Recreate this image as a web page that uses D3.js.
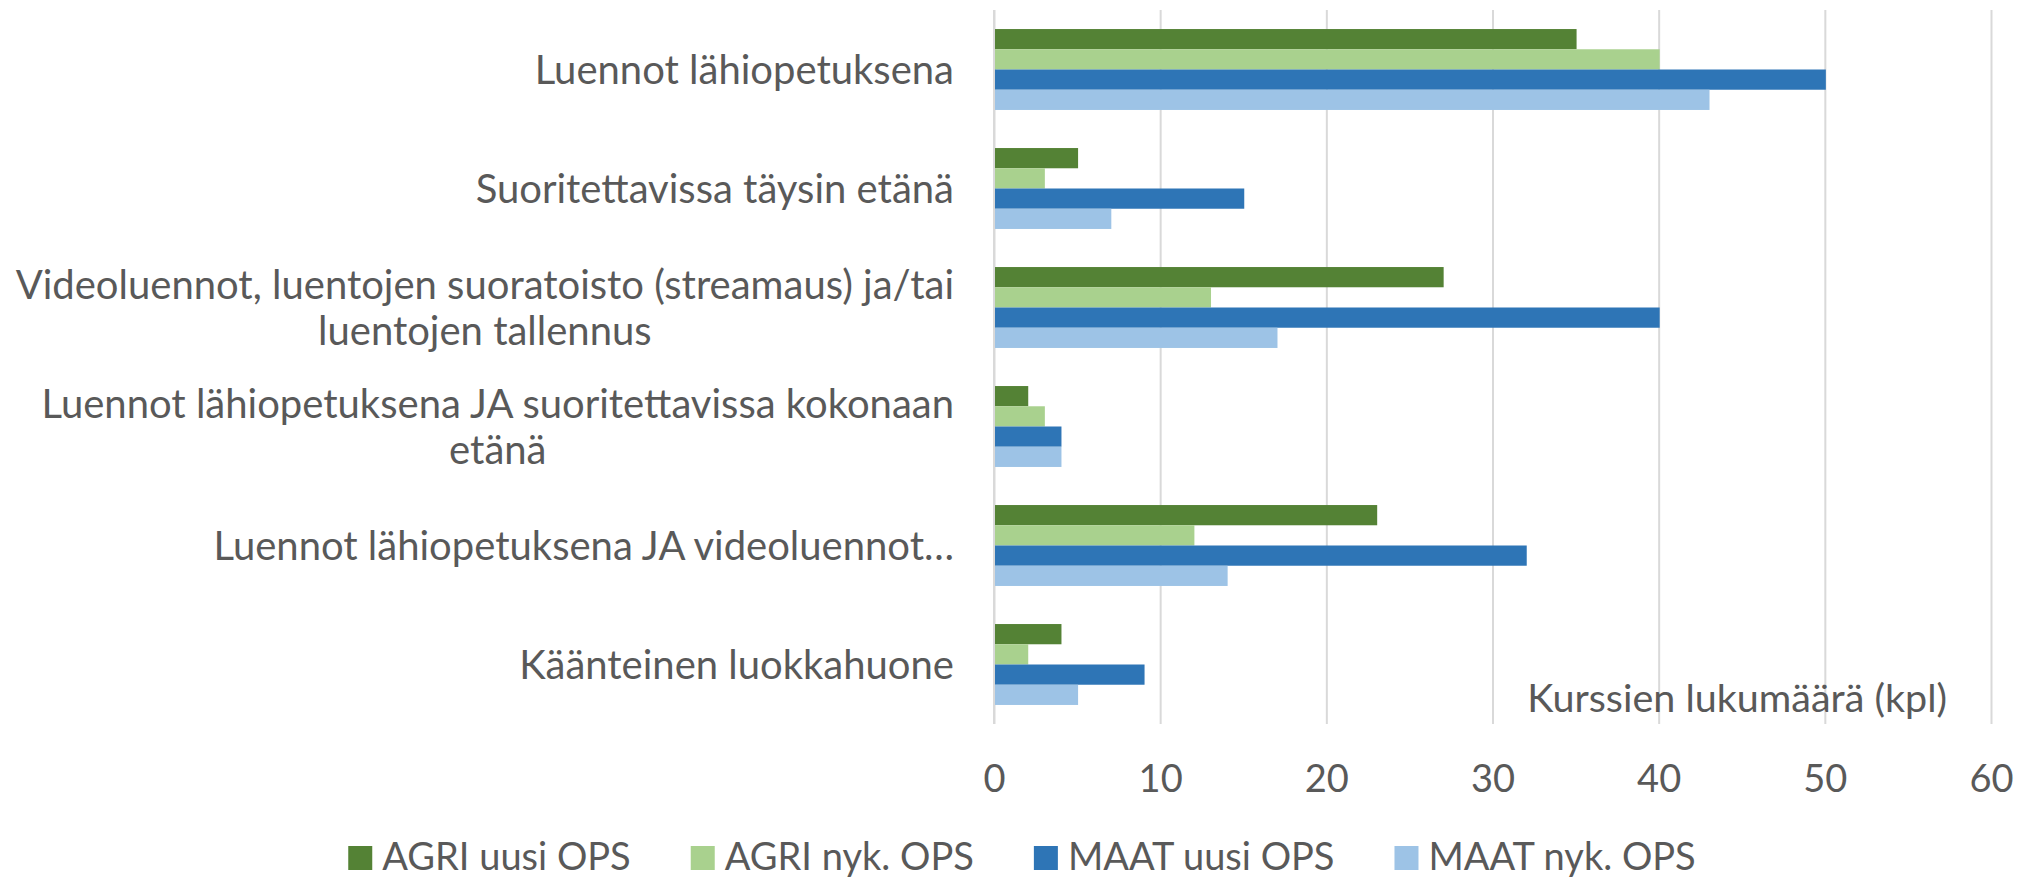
<!DOCTYPE html>
<html>
<head>
<meta charset="utf-8">
<script src="https://cdn.jsdelivr.net/npm/d3@7"></script>
<style>
  html, body { margin: 0; padding: 0; background: #fff; }
  #root { width: 2030px; height: 877px; }
  text { font-family: Lato, "Open Sans", sans-serif; fill: #595959; }
</style>
</head>
<body>
<div id="root"></div>
<script>
// Data
const categories = [
    ["Luennot lähiopetuksena"],
    ["Suoritettavissa täysin etänä"],
    ["Videoluennot, luentojen suoratoisto (streamaus) ja/tai", "luentojen tallennus"],
    ["Luennot lähiopetuksena JA suoritettavissa kokonaan", "etänä"],
    ["Luennot lähiopetuksena JA videoluennot…"],
    ["Käänteinen luokkahuone"]
];
const seriesNames = ["AGRI uusi OPS", "AGRI nyk. OPS", "MAAT uusi OPS", "MAAT nyk. OPS"];
const agriUusi = [35, 5, 27, 2, 23, 4];
const agriNyk  = [40, 3, 13, 3, 12, 2];
const maatUusi = [50, 15, 40, 4, 32, 9];
const maatNyk  = [43, 7, 17, 4, 14, 5];
const xTicks = [0, 10, 20, 30, 40, 50, 60];
const axisTitle = "Kurssien lukumäärä (kpl)";
const colors = ["#548235", "#A9D18E", "#2E75B6", "#9DC3E6"];

const seriesValues = [agriUusi, agriNyk, maatUusi, maatNyk];
const rows = categories.map((c, i) => ({
    key: c.join(" "),
    lines: c,
    values: seriesValues.map((s, j) => ({ series: seriesNames[j], value: s[i], color: colors[j] }))
}));

// Dimensions
const W = 2030, H = 877;
const margin = { top: 10, right: 39, bottom: 153, left: 994 };
const width = W - margin.left - margin.right;
const height = H - margin.top - margin.bottom;
const fontSize = 38;
const catFontSize = 40;

const svg = d3.select('#root')
    .append('svg')
    .attr('width', W)
    .attr('height', H);

const g = svg.append('g')
    .attr('transform', `translate(${margin.left},${margin.top})`);

// Scales
const x = d3.scaleLinear().domain([0, 60]).range([0, width]);
const y = d3.scaleBand()
    .domain(rows.map(d => d.key))
    .range([0, height])
    .paddingInner(0.32)
    .paddingOuter(0.16);
const ySub = d3.scaleBand()
    .domain(seriesNames)
    .range([0, y.bandwidth()]);

// Gridlines
g.append('g')
    .attr('class', 'grid')
    .call(d3.axisBottom(x).tickValues(xTicks).tickSize(height).tickFormat(''))
    .call(s => s.select('.domain').remove())
    .call(s => s.selectAll('line').attr('stroke', '#d9d9d9').attr('stroke-width', 2));

// Bars
const groups = g.selectAll('.cat')
    .data(rows)
    .enter()
    .append('g')
    .attr('class', 'cat')
    .attr('transform', d => `translate(0,${y(d.key)})`);

groups.selectAll('rect')
    .data(d => d.values)
    .enter()
    .append('rect')
    .attr('x', x(0) + 1)
    .attr('y', d => ySub(d.series))
    .attr('width', d => x(d.value) - x(0))
    .attr('height', ySub.bandwidth())
    .attr('fill', d => d.color);

// Vertical axis line
g.append('line')
    .attr('x1', x(0)).attr('x2', x(0))
    .attr('y1', 0).attr('y2', height)
    .attr('stroke', '#d9d9d9')
    .attr('stroke-width', 2);

// X axis labels
g.append('g')
    .attr('transform', `translate(0,${height})`)
    .call(d3.axisBottom(x).tickValues(xTicks).tickSize(0).tickPadding(41).tickFormat(d3.format('d')))
    .call(s => s.select('.domain').remove())
    .call(s => s.selectAll('text')
        .attr('font-size', fontSize)
        .attr('font-family', null)
        .attr('fill', '#595959'));

// Category labels (wrapped lines centred on each other)
const yAxis = g.append('g')
    .call(d3.axisLeft(y).tickSize(0).tickPadding(41).tickFormat(''))
    .call(s => s.select('.domain').remove());

const lineH = 46;
yAxis.selectAll('.tick').each(function(key) {
    const row = rows.find(r => r.key === key);
    const t = d3.select(this).select('text')
        .attr('font-size', catFontSize)
        .attr('font-family', null)
        .attr('fill', '#595959')
        .attr('dy', null);
    row.lines.forEach((ln, i) => {
        t.append('tspan')
            .attr('y', (i - (row.lines.length - 1) / 2) * lineH)
            .attr('dy', '0.35em')
            .text(ln);
    });
    // widest line decides where the centred block sits
    let maxW = 0;
    t.selectAll('tspan').each(function() { maxW = Math.max(maxW, this.getComputedTextLength()); });
    const cx = -40 - maxW / 2;
    t.attr('text-anchor', 'middle');
    t.selectAll('tspan').attr('x', cx);
});

// Axis title
g.append('text')
    .attr('x', 953)
    .attr('y', 702)
    .attr('text-anchor', 'end')
    .attr('font-size', 39.5)
    .text(axisTitle);

// Legend
const legend = svg.append('g').attr('class', 'legend');
const items = legend.selectAll('.item')
    .data(seriesNames)
    .enter()
    .append('g')
    .attr('class', 'item');
items.append('rect')
    .attr('x', 0)
    .attr('y', -24)
    .attr('width', 24)
    .attr('height', 24)
    .attr('fill', (d, i) => colors[i]);
items.append('text')
    .attr('x', 34)
    .attr('y', 0)
    .attr('font-size', fontSize)
    .text(d => d);

const gap = 60;
let pos = 0;
const offsets = [];
items.each(function() {
    offsets.push(pos);
    pos += 34 + d3.select(this).select('text').node().getComputedTextLength() + gap;
});
const total = pos - gap;
const startX = 1022 - total / 2;
items.attr('transform', (d, i) => `translate(${startX + offsets[i]},870)`);
</script>
</body>
</html>
